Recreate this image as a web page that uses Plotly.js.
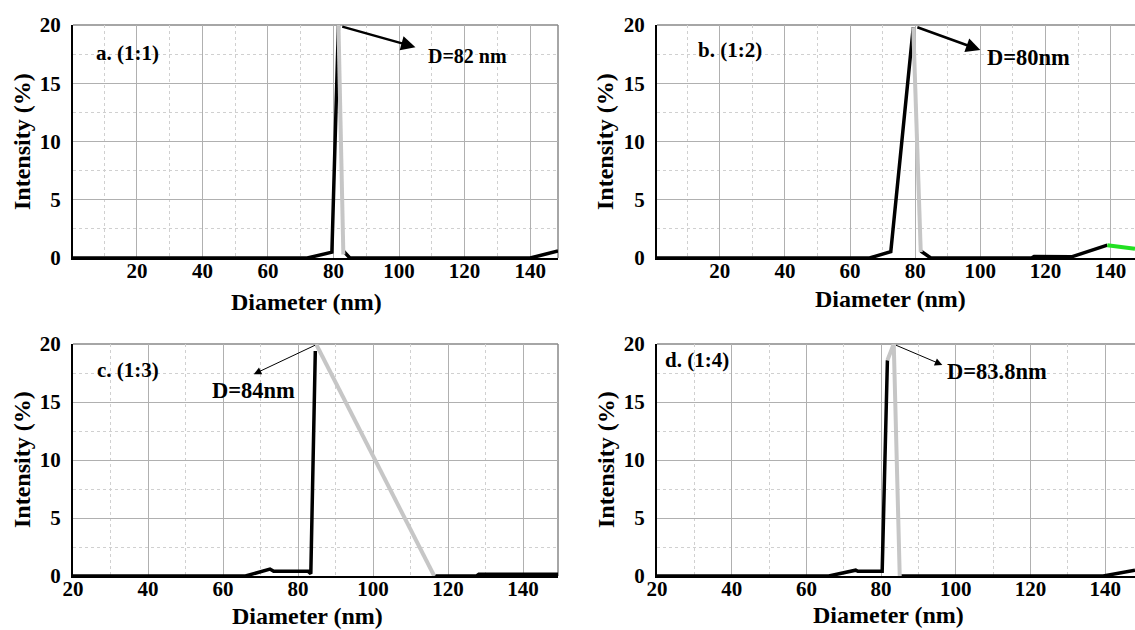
<!DOCTYPE html>
<html>
<head>
<meta charset="utf-8">
<script src="https://cdn.plot.ly/plotly-3.0.1.min.js"></script>
<style>html,body{margin:0;padding:0;background:#fff;}#chart{width:1135px;height:630px;}</style>
</head>
<body>
<div id="chart"></div>
<script>
// ---- Data (Diameter nm, Intensity %) ----
// Panel a (1:1)
const aBlack1X = [0.5, 72, 79.5, 81.5];
const aBlack1Y = [0, 0, 0.5, 20];
const aGrayX = [81.5, 83];
const aGrayY = [20, 0.3];
const aBlack2X = [83, 85, 140, 148.5];
const aBlack2Y = [0.6, 0, 0, 0.6];
// Panel b (1:2)
const bBlack1X = [0.7, 66, 72.5, 79.4];
const bBlack1Y = [0, 0, 0.55, 19.8];
const bGrayX = [79.4, 81.7];
const bGrayY = [19.8, 0.5];
const bBlack2X = [81.7, 84.8, 115.7, 116.5, 128, 139];
const bBlack2Y = [0.6, 0, 0, 0.12, 0.1, 1.1];
const bGreenX = [139, 147.5];
const bGreenY = [1.1, 0.8];
// Panel c (1:3)
const cBlack1X = [20, 66, 72.5, 73.5, 82.7, 83.4, 84.6];
const cBlack1Y = [0, 0, 0.6, 0.4, 0.4, 0.2, 19.4];
const cGrayX = [84.8, 116.3];
const cGrayY = [20, 0];
const cBlack2X = [116.3, 127.6, 128.2, 150];
const cBlack2Y = [0, 0, 0.15, 0.15];
// Panel d (1:4)
const dBlack1X = [20, 66, 73.2, 73.8, 80.3, 81.7];
const dBlack1Y = [0, 0, 0.5, 0.4, 0.4, 18.6];
const dGrayX = [81.7, 83.4, 85];
const dGrayY = [18.6, 20, 0];
const dBlack2X = [85, 139.5, 148];
const dBlack2Y = [0, 0, 0.5];

const panelLabels = ['a. (1:1)', 'b. (1:2)', 'c. (1:3)', 'd. (1:4)'];
const peakLabels = ['D=82 nm', 'D=80nm', 'D=84nm', 'D=83.8nm'];
const xTitle = 'Diameter (nm)';
const yTitle = 'Intensity (%)';

const FONT = 'Liberation Serif';
const BLACK = '#000000', GRAY = '#c6c6c6', GREEN = '#22e022';

function tr(x, y, color, width, xa, ya) {
  return {x: x, y: y, mode: 'lines', type: 'scatter', xaxis: xa, yaxis: ya,
    line: {color: color, width: width}, hoverinfo: 'skip', showlegend: false};
}

const data = [
  tr(aBlack1X, aBlack1Y, BLACK, 3.5, 'x', 'y'),
  tr(aBlack2X, aBlack2Y, BLACK, 3.5, 'x', 'y'),
  tr(aGrayX, aGrayY, GRAY, 4, 'x', 'y'),
  tr(bBlack1X, bBlack1Y, BLACK, 3.5, 'x2', 'y2'),
  tr(bBlack2X, bBlack2Y, BLACK, 3.5, 'x2', 'y2'),
  tr(bGrayX, bGrayY, GRAY, 4, 'x2', 'y2'),
  tr(bGreenX, bGreenY, GREEN, 4, 'x2', 'y2'),
  tr(cBlack1X, cBlack1Y, BLACK, 3.5, 'x3', 'y3'),
  tr(cBlack2X, cBlack2Y, BLACK, 3.5, 'x3', 'y3'),
  tr(cGrayX, cGrayY, GRAY, 4, 'x3', 'y3'),
  tr(dBlack1X, dBlack1Y, BLACK, 3.5, 'x4', 'y4'),
  tr(dBlack2X, dBlack2Y, BLACK, 3.5, 'x4', 'y4'),
  tr(dGrayX, dGrayY, GRAY, 4, 'x4', 'y4')
];

function tickFont() { return {family: FONT, size: 21, color: '#000', weight: 'bold'}; }

function xax(domain, range, anchor) {
  return {domain: domain, range: range, anchor: anchor, dtick: 20, tick0: 0,
    showgrid: true, gridcolor: '#b0b0b0', gridwidth: 1,
    minor: {dtick: 10, showgrid: true, gridcolor: '#d0d0d0', griddash: 'dot', gridwidth: 1},
    showline: true, linecolor: '#000', linewidth: 2, zeroline: false,
    ticks: '', ticklabelstandoff: -7, tickfont: tickFont(), fixedrange: true};
}
function yax(domain, anchor) {
  return {domain: domain, range: [0, 20], anchor: anchor, dtick: 5, tick0: 0,
    showgrid: true, gridcolor: '#b0b0b0', gridwidth: 1,
    minor: {dtick: 2.5, showgrid: true, gridcolor: '#d0d0d0', griddash: 'dot', gridwidth: 1},
    showline: true, linecolor: '#000', linewidth: 2, zeroline: false,
    ticks: 'outside', ticklen: 6, tickcolor: 'rgba(0,0,0,0)', tickfont: tickFont(), fixedrange: true};
}

const W = 1135, H = 630;
const xdA = [73 / W, 558 / W], xdB = [657 / W, 1];
const ydTop = [(H - 258) / H, (H - 25) / H];
const ydBot = [(H - 576) / H, (H - 344) / H];

function border(xr, yr, right) {
  const s = [{type: 'line', xref: xr + ' domain', yref: yr + ' domain', x0: 0, x1: 1, y0: 1, y1: 1,
    line: {color: '#888888', width: 1.5}, layer: 'below'}];
  if (right) s.push({type: 'line', xref: xr + ' domain', yref: yr + ' domain', x0: 1, x1: 1, y0: 0, y1: 1,
    line: {color: '#888888', width: 1.5}, layer: 'below'});
  return s;
}

function txt(text, x, y, xr, yr, size, extra) {
  return Object.assign({text: text, x: x, y: y, xref: xr, yref: yr, showarrow: false,
    xanchor: 'center', yanchor: 'middle',
    font: {family: FONT, size: size, color: '#000', weight: 'bold'}}, extra || {});
}
function arrow(x, y, ax, ay, xr, yr, w, size) {
  return {text: '', x: x, y: y, ax: ax, ay: ay, xref: xr, yref: yr, axref: xr, ayref: yr,
    showarrow: true, arrowhead: 2, arrowsize: size, arrowwidth: w, arrowcolor: '#000'};
}

const annotations = [
  // panel labels
  txt(panelLabels[0], 6.9, 17.6, 'x', 'y', 21, {xanchor: 'left'}),
  txt(panelLabels[1], 12.7, 17.85, 'x2', 'y2', 21, {xanchor: 'left'}),
  txt(panelLabels[2], 25.9, 17.8, 'x3', 'y3', 21, {xanchor: 'left'}),
  txt(panelLabels[3], 21.7, 18.6, 'x4', 'y4', 21, {xanchor: 'left'}),
  // arrows
  arrow(105, 18.1, 82.2, 19.9, 'x', 'y', 2.5, 1.15),
  arrow(100, 17.85, 80.2, 19.85, 'x2', 'y2', 2.5, 1.15),
  arrow(68.2, 17.4, 84.9, 19.95, 'x3', 'y3', 1, 1.5),
  arrow(96.4, 18.2, 83.6, 19.95, 'x4', 'y4', 1, 1.5),
  // peak labels
  txt(peakLabels[0], 121, 17.35, 'x', 'y', 20),
  txt(peakLabels[1], 114.8, 17.25, 'x2', 'y2', 22.5),
  txt(peakLabels[2], 68.1, 15.95, 'x3', 'y3', 22.5),
  txt(peakLabels[3], 111, 17.6, 'x4', 'y4', 22.5),
  // axis titles
  txt(xTitle, 306 / W, 1 - 302 / H, 'paper', 'paper', 24),
  txt(xTitle, 890 / W, 1 - 299 / H, 'paper', 'paper', 24),
  txt(xTitle, 307 / W, 1 - 616 / H, 'paper', 'paper', 24),
  txt(xTitle, 888 / W, 1 - 615 / H, 'paper', 'paper', 24),
  txt(yTitle, 22 / W, 1 - 142 / H, 'paper', 'paper', 24, {textangle: -90}),
  txt(yTitle, 605 / W, 1 - 142 / H, 'paper', 'paper', 24, {textangle: -90}),
  txt(yTitle, 22 / W, 1 - 460 / H, 'paper', 'paper', 24, {textangle: -90}),
  txt(yTitle, 606 / W, 1 - 460 / H, 'paper', 'paper', 24, {textangle: -90})
];

const layout = {
  width: W, height: H,
  margin: {l: 0, r: 0, t: 0, b: 0, pad: 0},
  paper_bgcolor: '#fff', plot_bgcolor: '#fff',
  showlegend: false,
  xaxis: xax(xdA, [0.5, 148.5], 'y'),
  yaxis: yax(ydTop, 'x'),
  xaxis2: xax(xdB, [0.7, 147.5], 'y2'),
  yaxis2: yax(ydTop, 'x2'),
  xaxis3: xax(xdA, [20, 149.3], 'y3'),
  yaxis3: yax(ydBot, 'x3'),
  xaxis4: xax(xdB, [20, 148], 'y4'),
  yaxis4: yax(ydBot, 'x4'),
  shapes: [].concat(border('x', 'y', true), border('x2', 'y2', false), border('x3', 'y3', true), border('x4', 'y4', false)),
  annotations: annotations
};

Plotly.newPlot('chart', data, layout, {staticPlot: true, displayModeBar: false});
</script>
</body>
</html>
